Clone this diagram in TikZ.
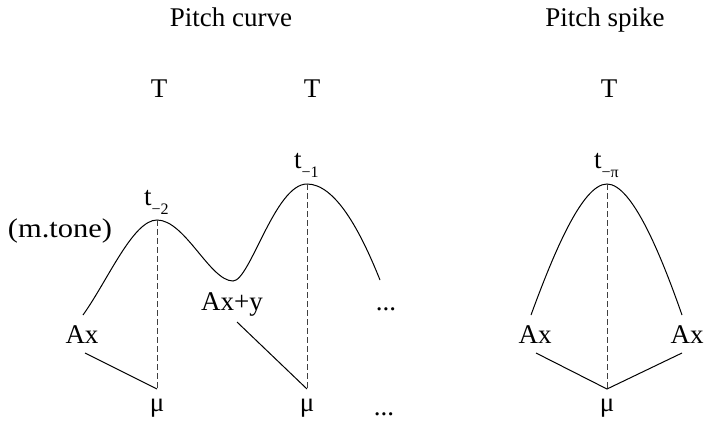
\documentclass[tikz,border=0pt]{standalone}
\usepackage{fontspec}
\setmainfont{Liberation Serif}
\newcommand\tsubs[1]{t\raisebox{-9pt}{\fontsize{16}{16}\selectfont #1}}
\begin{document}
\begin{tikzpicture}[x=1pt,y=-1pt,
  lbl/.style={inner sep=0pt,anchor=base,font=\fontsize{27}{32}\selectfont},
  tlbl/.style={inner sep=0pt,anchor=base west,font=\fontsize{27}{32}\selectfont},
  curve/.style={line width=1pt},
  link/.style={line width=1pt},
  drop/.style={line width=1pt,black!75,dash pattern=on 6pt off 3pt}]
\useasboundingbox (0,0) rectangle (704,423);
% titles
\node[lbl] (title1) at (231,26) {Pitch curve};
\node[lbl] (title2) at (605,26) {Pitch spike};
\node[lbl] (T1) at (159,97) {T};
\node[lbl] (T2) at (312,97) {T};
\node[lbl] (T3) at (609,97) {T};
% labels
\node[lbl] (mtone) at (60,237) {\scalebox{1.13}[1]{(m.tone)}};
\node[tlbl] (t2) at (144,205) {\tsubs{−2}};
\node[tlbl] (t1) at (294,168) {\tsubs{−1}};
\node[tlbl] (tpi) at (594,168) {\tsubs{−π}};
\node[lbl] (ax1) at (82,343) {Ax};
\node[lbl] (axy) at (232,310) {Ax+y};
\node[lbl] (dots1) at (386,310) {...};
\node[lbl] (ax2) at (535,343) {Ax};
\node[lbl] (ax3) at (687,343) {Ax};
\node[lbl] (mu1) at (157,411) {μ};
\node[lbl] (mu2) at (307,411) {μ};
\node[lbl] (dots2) at (384,415) {...};
\node[lbl] (mu3) at (607,411) {μ};
% key points
\coordinate (s1) at (83,315);
\coordinate (p1) at (157,220);
\coordinate (tr) at (233,281);
\coordinate (p2) at (307,184);
\coordinate (e1) at (380,280);
\coordinate (b1) at (157,389);
\coordinate (b2) at (307,389);
\coordinate (l1) at (85,353);
\coordinate (l2) at (237,322);
\coordinate (s3) at (531,315);
\coordinate (p3) at (607,184);
\coordinate (e3) at (682,315);
\coordinate (b3) at (607,389);
\coordinate (l3) at (536,353);
\coordinate (l4) at (682,353);
% pitch curve
\draw[curve] (s1) .. controls (108,280) and (133,220) .. (p1)
  .. controls (185,220) and (210,281) .. (tr)
  .. controls (250,281) and (275,184) .. (p2)
  .. controls (335,184) and (360,230) .. (e1);
\draw[drop] (p1) -- (b1);
\draw[drop] (p2) -- (b2);
\draw[link] (l1) -- (b1);
\draw[link] (l2) -- (b2);
% pitch spike
\draw[curve] (s3) .. controls (553,255) and (582,184) .. (p3)
  .. controls (632,184) and (661,255) .. (e3);
\draw[drop] (p3) -- (b3);
\draw[link] (l3) -- (b3) -- (l4);
\end{tikzpicture}
\end{document}
